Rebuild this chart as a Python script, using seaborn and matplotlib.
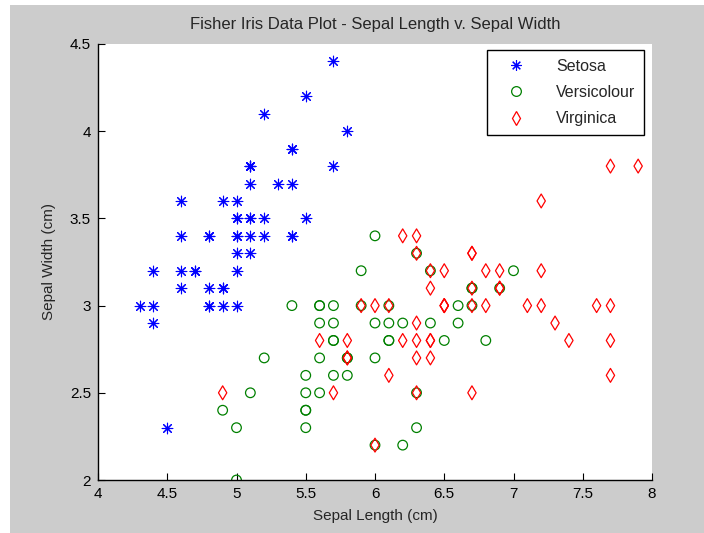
import matplotlib
matplotlib.use("Agg")
import matplotlib.pyplot as plt
from matplotlib.lines import Line2D
from matplotlib.patches import Rectangle
import seaborn as sns
import pandas as pd

# Fisher iris: sepal length / sepal width per species
setosa_len = [5.1, 4.9, 4.7, 4.6, 5.0, 5.4, 4.6, 5.0, 4.4, 4.9,
              5.4, 4.8, 4.8, 4.3, 5.8, 5.7, 5.4, 5.1, 5.7, 5.1,
              5.4, 5.1, 4.6, 5.1, 4.8, 5.0, 5.0, 5.2, 5.2, 4.7,
              4.8, 5.4, 5.2, 5.5, 4.9, 5.0, 5.5, 4.9, 4.4, 5.1,
              5.0, 4.5, 4.4, 5.0, 5.1, 4.8, 5.1, 4.6, 5.3, 5.0]
setosa_wid = [3.5, 3.0, 3.2, 3.1, 3.6, 3.9, 3.4, 3.4, 2.9, 3.1,
              3.7, 3.4, 3.0, 3.0, 4.0, 4.4, 3.9, 3.5, 3.8, 3.8,
              3.4, 3.7, 3.6, 3.3, 3.4, 3.0, 3.4, 3.5, 3.4, 3.2,
              3.1, 3.4, 4.1, 4.2, 3.1, 3.2, 3.5, 3.6, 3.0, 3.4,
              3.5, 2.3, 3.2, 3.5, 3.8, 3.0, 3.8, 3.2, 3.7, 3.3]

versi_len = [7.0, 6.4, 6.9, 5.5, 6.5, 5.7, 6.3, 4.9, 6.6, 5.2,
             5.0, 5.9, 6.0, 6.1, 5.6, 6.7, 5.6, 5.8, 6.2, 5.6,
             5.9, 6.1, 6.3, 6.1, 6.4, 6.6, 6.8, 6.7, 6.0, 5.7,
             5.5, 5.5, 5.8, 6.0, 5.4, 6.0, 6.7, 6.3, 5.6, 5.5,
             5.5, 6.1, 5.8, 5.0, 5.6, 5.7, 5.7, 6.2, 5.1, 5.7]
versi_wid = [3.2, 3.2, 3.1, 2.3, 2.8, 2.8, 3.3, 2.4, 2.9, 2.7,
             2.0, 3.0, 2.2, 2.9, 2.9, 3.1, 3.0, 2.7, 2.2, 2.5,
             3.2, 2.8, 2.5, 2.8, 2.9, 3.0, 2.8, 3.0, 2.9, 2.6,
             2.4, 2.4, 2.7, 2.7, 3.0, 3.4, 3.1, 2.3, 3.0, 2.5,
             2.6, 3.0, 2.6, 2.3, 2.7, 3.0, 2.9, 2.9, 2.5, 2.8]

virg_len = [6.3, 5.8, 7.1, 6.3, 6.5, 7.6, 4.9, 7.3, 6.7, 7.2,
            6.5, 6.4, 6.8, 5.7, 5.8, 6.4, 6.5, 7.7, 7.7, 6.0,
            6.9, 5.6, 7.7, 6.3, 6.7, 7.2, 6.2, 6.1, 6.4, 7.2,
            7.4, 7.9, 6.4, 6.3, 6.1, 7.7, 6.3, 6.4, 6.0, 6.9,
            6.7, 6.9, 5.8, 6.8, 6.7, 6.7, 6.3, 6.5, 6.2, 5.9]
virg_wid = [3.3, 2.7, 3.0, 2.9, 3.0, 3.0, 2.5, 2.9, 2.5, 3.6,
            3.2, 2.7, 3.0, 2.5, 2.8, 3.2, 3.0, 3.8, 2.6, 2.2,
            3.2, 2.8, 2.8, 2.7, 3.3, 3.2, 2.8, 3.0, 2.8, 3.0,
            2.8, 3.8, 2.8, 2.8, 2.6, 3.0, 3.4, 3.1, 3.0, 3.1,
            3.1, 3.1, 2.7, 3.2, 3.3, 3.0, 2.5, 3.0, 3.4, 3.0]

species = ["Setosa", "Versicolour", "Virginica"]
x_ticks = [4, 4.5, 5, 5.5, 6, 6.5, 7, 7.5, 8]
x_labels = ["4", "4.5", "5", "5.5", "6", "6.5", "7", "7.5", "8"]
y_ticks = [2, 2.5, 3, 3.5, 4, 4.5]
y_labels = ["2", "2.5", "3", "3.5", "4", "4.5"]

sns.set_style("ticks")
plt.rcParams["font.family"] = ["Liberation Sans", "DejaVu Sans"]
plt.rcParams["font.size"] = 11

fig = plt.figure(figsize=(7.04, 5.33), dpi=100, facecolor="white")
# matlab grey figure background (screenshot has a thin white edge top/left)
fig.patches.append(Rectangle((10 / 704, 0), 1, 1 - 5 / 533, transform=fig.transFigure,
                             facecolor="#cccccc", edgecolor="none", zorder=-10))
ax = fig.add_axes([98 / 704, 1 - 480 / 533, (652 - 98) / 704, (480 - 44) / 533])
ax.set_facecolor("white")

blue = "#0000ff"
green = "#008000"
red = "#ff0000"
star = (8, 2, 0)

df_s = pd.DataFrame({"len": setosa_len, "wid": setosa_wid})
df_v = pd.DataFrame({"len": versi_len, "wid": versi_wid})
df_g = pd.DataFrame({"len": virg_len, "wid": virg_wid})

sns.scatterplot(data=df_s, x="len", y="wid", marker=star, color=blue, s=58,
                linewidth=0.8, ax=ax, legend=False)
sns.scatterplot(data=df_v, x="len", y="wid", marker="o", color=green, edgecolor=green,
                s=48, linewidth=0.9, ax=ax, legend=False)
ax.collections[-1].set_facecolor("none")
sns.scatterplot(data=df_g, x="len", y="wid", marker="d", color=red, edgecolor=red,
                s=50, linewidth=0.9, ax=ax, legend=False)
ax.collections[-1].set_facecolor("none")

ax.set_xlim(4, 8)
ax.set_ylim(2, 4.5)
ax.set_xticks(x_ticks)
ax.set_xticklabels(x_labels)
ax.set_yticks(y_ticks)
ax.set_yticklabels(y_labels)
ax.tick_params(direction="in", length=5, width=0.8, colors="black", labelsize=11, pad=5)
ax.spines["top"].set_visible(False)
ax.spines["right"].set_visible(False)
for sp in ["left", "bottom"]:
    ax.spines[sp].set_color("black")
    ax.spines[sp].set_linewidth(1.0)

ax.set_xlabel("Sepal Length (cm)", fontsize=11, labelpad=6)
ax.set_ylabel("Sepal Width (cm)", fontsize=11, labelpad=10)
ax.set_title("Fisher Iris Data Plot - Sepal Length v. Sepal Width", fontsize=12, pad=11)

handles = [
    Line2D([], [], linestyle="none", marker=star, color=blue, markersize=7.6, mew=0.8),
    Line2D([], [], linestyle="none", marker="o", markerfacecolor="none",
           markeredgecolor=green, markersize=7, mew=0.9),
    Line2D([], [], linestyle="none", marker="d", markerfacecolor="none",
           markeredgecolor=red, markersize=7, mew=0.9),
]
leg = ax.legend(handles, species, loc="upper right", bbox_to_anchor=(0.9856, 0.986),
                borderaxespad=0, fancybox=False, framealpha=1, edgecolor="black",
                fontsize=11.5, handletextpad=1.2, borderpad=0.55, labelspacing=0.7,
                handlelength=2.6)
leg.get_frame().set_linewidth(1.0)

fig.savefig("out.png", dpi=100, facecolor=fig.get_facecolor())
